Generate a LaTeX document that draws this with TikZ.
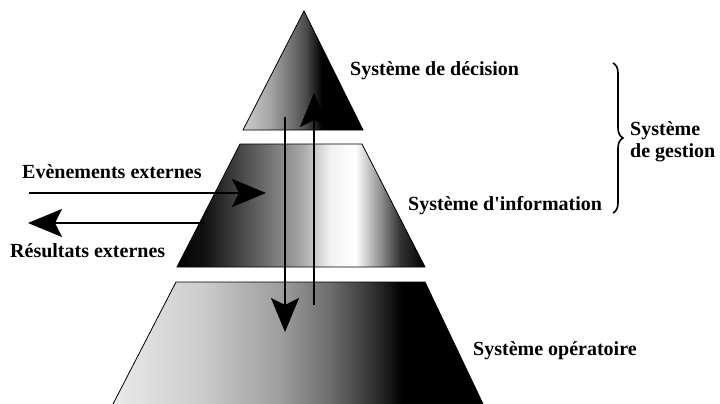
\documentclass[tikz,border=0pt]{standalone}
\usepackage{fontspec}
\setmainfont{Liberation Serif}
\usetikzlibrary{arrows.meta,decorations.pathreplacing}
\pgfdeclarehorizontalshading{topsh}{100bp}{color(0bp)=(white!80!black); color(25bp)=(white!80!black); color(36bp)=(white!65!black); color(45bp)=(white!45!black); color(51bp)=(white!30!black); color(58bp)=(black); color(100bp)=(black)}
\pgfdeclarehorizontalshading{midsh}{100bp}{color(0bp)=(black); color(25bp)=(black); color(31bp)=(white!8!black); color(42bp)=(white!40!black); color(50bp)=(white!65!black); color(56bp)=(white!95!black); color(61bp)=(white); color(65bp)=(white!65!black); color(70bp)=(white!20!black); color(75bp)=(black); color(100bp)=(black)}
\pgfdeclarehorizontalshading{botsh}{100bp}{color(0bp)=(white!92!black); color(25bp)=(white!92!black); color(37bp)=(white!80!black); color(47.5bp)=(white!62!black); color(54.5bp)=(white!42!black); color(60bp)=(white!20!black); color(64bp)=(black); color(100bp)=(black)}
\tikzset{
  layer/.style={draw=black, line width=0.8pt},
  flow/.style={line width=2.5pt, -{Stealth[length=34pt,width=28pt,inset=7pt]}},
  lbl/.style={font=\bfseries\fontsize{20}{22}\selectfont, inner sep=0pt, anchor=base west},
  bracestyle/.style={line width=1.6pt, decorate, decoration={brace, amplitude=10pt}}
}
\begin{document}
\begin{tikzpicture}[x=1pt, y=-1pt]
\useasboundingbox (0,0) rectangle (720,404);
% pyramid layers
\path[layer, shading=topsh] (304,11) -- (363,130) -- (243,130) -- cycle;
\path[layer, shading=midsh] (240,144) -- (362,144) -- (425,267) -- (177,267) -- cycle;
\path[layer, shading=botsh] (176,282) -- (425,282) -- (484,406) -- (112,406) -- cycle;
% connector end points
\coordinate (downS) at (285,117);
\coordinate (downE) at (285,332);
\coordinate (upS) at (314,305);
\coordinate (upE) at (314,93);
\coordinate (evS) at (29,193);
\coordinate (evE) at (266,193);
\coordinate (reS) at (205,223);
\coordinate (reE) at (28,223);
\coordinate (brT) at (613,63);
\coordinate (brB) at (613,213);
% connectors
\draw[flow] (downS) -- (downE);
\draw[flow] (upS) -- (upE);
\draw[flow] (evS) -- (evE);
\draw[flow] (reS) -- (reE);
\draw[bracestyle] (brT) -- (brB);
% labels
\node[lbl] (dec) at (350,75) {Système de décision};
\node[lbl] (inf) at (408,210) {Système d\textquotesingle information};
\node[lbl] (ope) at (473,355) {Système opératoire};
\node[lbl] (eve) at (22,178) {Evènements externes};
\node[lbl] (res) at (10,257) {Résultats externes};
\node[lbl] (ges1) at (630,135) {Système};
\node[lbl] (ges2) at (630,157) {de gestion};
\end{tikzpicture}
\end{document}
